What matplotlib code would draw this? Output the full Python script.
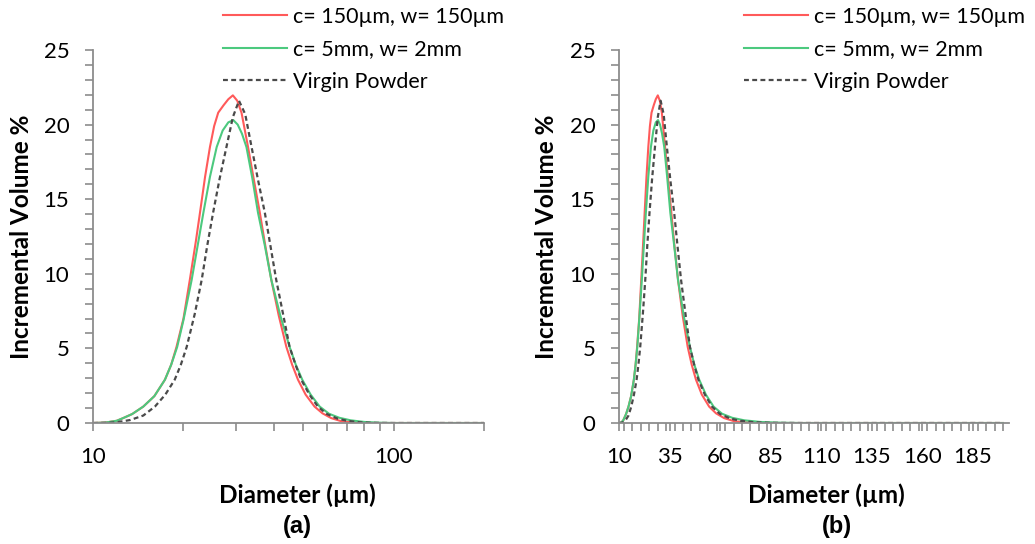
import matplotlib
matplotlib.use("Agg")
import matplotlib.pyplot as plt
from matplotlib.ticker import MultipleLocator, FixedLocator, NullFormatter, FixedFormatter

plt.rcParams['font.family'] = ['Lato', 'DejaVu Sans']

# ---- data ----
red_x = [10.0, 11.0, 12.0, 12.6, 13.5, 14.7, 16.0, 17.35, 18.2, 18.96, 20.0, 21.0, 22.0, 22.7,
         23.6, 24.5, 25.3, 26.1, 27.2, 28.2, 29.2, 30.2, 31.2, 32.8, 34.3, 35.9, 37.5, 39.2,
         41.5, 44.0, 46.0, 48.1, 51.0, 54.6, 58.0, 62.0, 67.0, 72.0, 80.0, 90.0, 100, 120, 150, 200]
red_y = [0, 0.03, 0.15, 0.33, 0.6, 1.1, 1.8, 2.9, 3.9, 5.1, 7.0, 9.6, 12.2, 14.1,
         16.5, 18.5, 19.9, 20.8, 21.3, 21.7, 21.96, 21.6, 20.8, 18.5, 16.3, 14.1, 11.8, 9.6,
         7.2, 5.1, 3.9, 2.9, 1.9, 1.1, 0.65, 0.33, 0.12, 0.05, 0.01, 0, 0, 0, 0, 0]

green_x = [10.0, 11.0, 12.0, 12.6, 13.5, 14.7, 16.0, 17.35, 18.2, 19.06, 20.0, 21.3, 22.3, 23.3,
           24.5, 25.8, 27.0, 28.2, 29.3, 30.3, 31.3, 32.4, 33.9, 35.4, 37.3, 39.2, 42.0, 45.1,
           47.3, 49.7, 53.0, 56.8, 61.0, 66.0, 72.0, 80.0, 90.0, 100, 120, 150, 200]
green_y = [0, 0.03, 0.15, 0.33, 0.6, 1.1, 1.8, 2.9, 3.9, 5.1, 6.9, 9.6, 11.9, 14.1,
           16.5, 18.5, 19.6, 20.15, 20.3, 20.0, 19.4, 18.5, 16.4, 14.1, 11.9, 9.6, 7.2, 5.1,
           3.9, 2.9, 1.9, 1.1, 0.62, 0.35, 0.18, 0.07, 0.02, 0, 0, 0, 0]

virgin_x = [10.0, 11.0, 12.0, 13.3, 14.7, 16.07, 17.4, 18.7, 19.6, 20.5, 21.8, 23.0, 24.0, 25.1,
            26.4, 27.8, 29.2, 30.6, 32.1, 33.7, 35.4, 37.3, 39.0, 40.7, 43.0, 45.1, 47.2, 49.3,
            52.5, 56.0, 60.0, 65.0, 70.0, 77.0, 85.0, 100, 120, 150, 200]
virgin_y = [0, 0.01, 0.05, 0.2, 0.5, 1.1, 1.9, 2.9, 3.9, 5.1, 7.3, 9.6, 11.9, 14.1,
            16.4, 18.5, 20.5, 21.6, 20.7, 18.5, 16.3, 14.1, 11.8, 9.6, 7.2, 5.1, 3.9, 2.9,
            1.9, 1.1, 0.6, 0.3, 0.15, 0.05, 0.01, 0, 0, 0, 0]

labels = ["c= 150\u00b5m, w= 150\u00b5m", "c= 5mm, w= 2mm", "Virgin Powder"]
y_ticks = [0, 5, 10, 15, 20, 25]
left_xticks = [10, 100]
right_xticks = [10, 35, 60, 85, 110, 135, 160, 185]
panel_tags = ["(a)", "(b)"]

RED = "#FF5A5A"
GREEN = "#4CC97E"
DASH = "#4A4A4A"
AXC = "#8C8C8C"

W, H = 1035, 544
fig = plt.figure(figsize=(W / 100, H / 100), dpi=100)

def px_axes(l, r, t, b):
    return fig.add_axes([l / W, 1 - b / H, (r - l) / W, (b - t) / H])

axL = px_axes(93, 484, 50, 423)
axR = px_axes(619, 1009, 50, 423)

for ax in (axL, axR):
    ax.plot(red_x, red_y, color=RED, lw=1.5, label=labels[0])
    ax.plot(green_x, green_y, color=GREEN, lw=1.5, label=labels[1])
    ax.plot(virgin_x, virgin_y, color=DASH, lw=1.6, ls=(0, (2.2, 1.5)), label=labels[2])
    ax.set_ylim(0, 25)
    ax.set_yticks(y_ticks)
    ax.yaxis.set_minor_locator(MultipleLocator(1))
    for s in ("top", "right"):
        ax.spines[s].set_visible(False)
    for s in ("left", "bottom"):
        ax.spines[s].set_color(AXC)
        ax.spines[s].set_linewidth(1.3)
    ax.tick_params(axis="both", which="both", direction="out", length=6, width=1.2,
                   color=AXC, labelsize=16, labelcolor="black")
    ax.tick_params(axis="y", pad=11)
    ax.tick_params(axis="x", pad=11)
    ax.set_ylabel("Incremental Volume %", fontsize=17.5, fontweight="bold")
    ax.set_xlabel("Diameter (\u00b5m)", fontsize=17.5, fontweight="bold")
    ax.yaxis.label.set_verticalalignment("center")
    ax.xaxis.label.set_verticalalignment("center")
    ax.patch.set_alpha(0)

axL.set_xscale("log")
axL.set_xlim(10, 200)
axL.xaxis.set_major_locator(FixedLocator(left_xticks))
axL.xaxis.set_major_formatter(FixedFormatter([str(v) for v in left_xticks]))
axL.xaxis.set_minor_locator(FixedLocator([20, 30, 40, 50, 60, 70, 80, 90, 200]))
axL.xaxis.set_minor_formatter(NullFormatter())

axR.set_xlim(10, 203)
axR.set_xticks(right_xticks)
axR.xaxis.set_minor_locator(MultipleLocator(25 / 6))

axL.xaxis.set_label_coords((297 - 93) / 391, (423 - 495) / 373)
axR.xaxis.set_label_coords((826 - 619) / 390, (423 - 495) / 373)
axL.yaxis.set_label_coords((22 - 93) / 391, 0.5)
axR.yaxis.set_label_coords((547 - 619) / 390, 0.5)

for ax, lx, tag_x, tag in ((axL, 223, 297, panel_tags[0]), (axR, 744, 837, panel_tags[1])):
    ax.legend(loc="upper left", bbox_to_anchor=(lx / W, 1 - 7 / H), bbox_transform=fig.transFigure,
              frameon=False, fontsize=15.5, handlelength=2.95, handletextpad=0.3,
              labelspacing=0.58, borderpad=0, borderaxespad=0)
    fig.text(tag_x / W, 1 - 527 / H, tag, ha="center", va="center", fontsize=17,
             fontweight="bold", family=["Liberation Sans", "DejaVu Sans"])

fig.savefig("out.png", dpi=100)
